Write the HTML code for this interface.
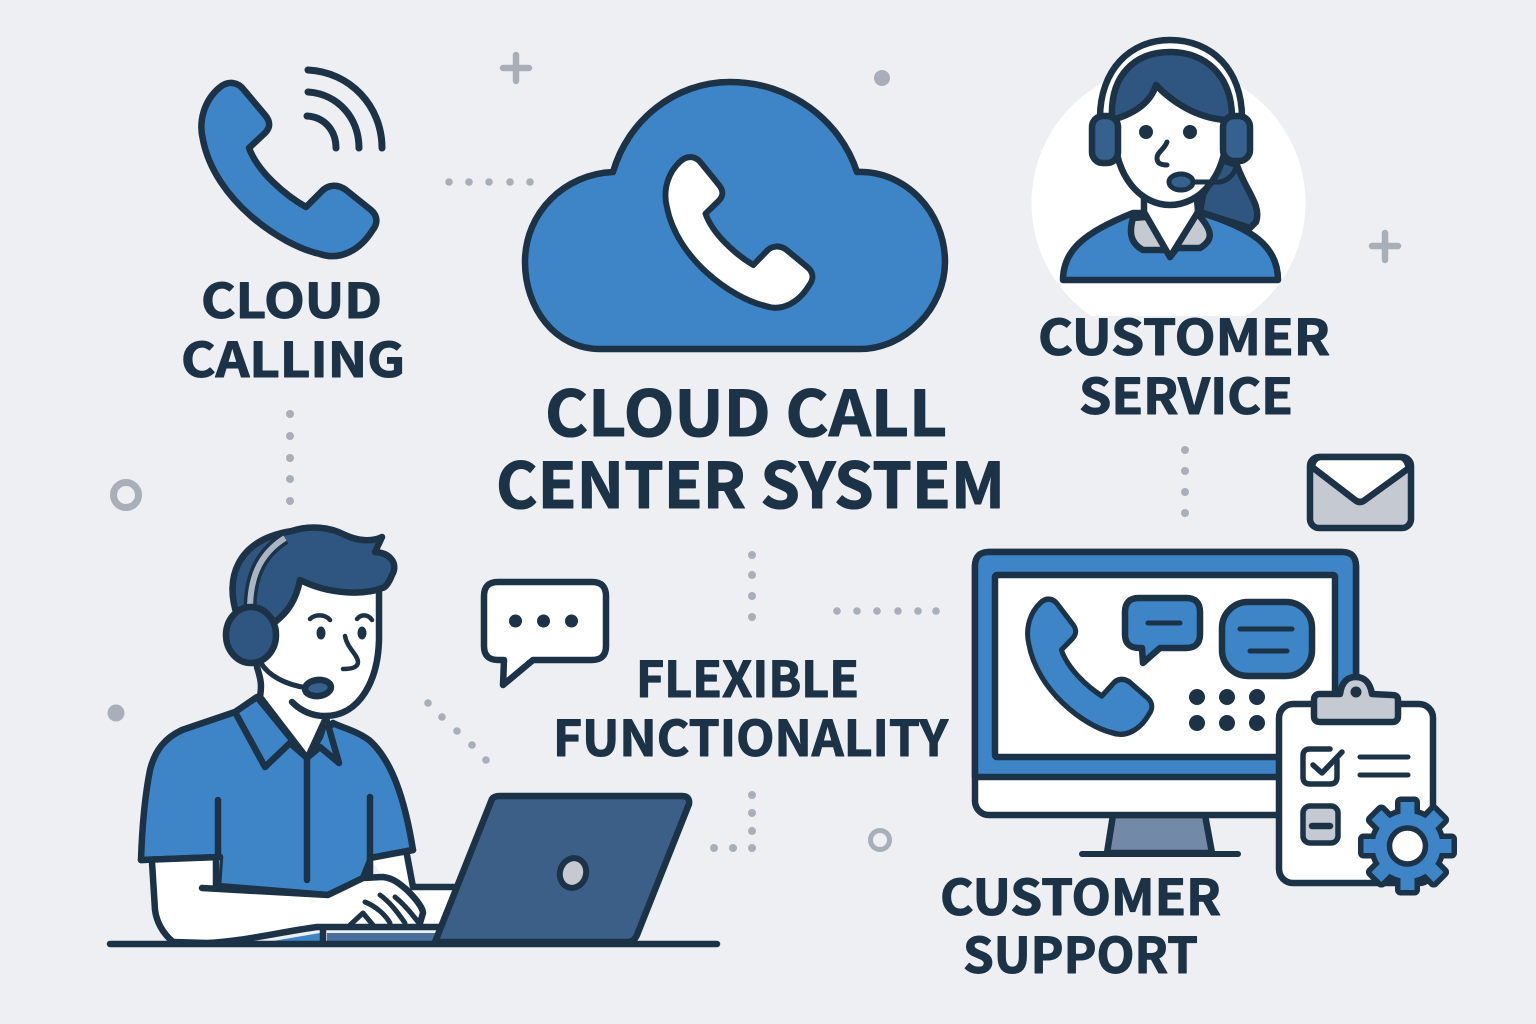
<!DOCTYPE html>
<html>
<head>
<meta charset="utf-8">
<style>
html,body{margin:0;padding:0;background:#edeff2;width:1536px;height:1024px;overflow:hidden}
svg{display:block}
text{font-family:"Noto Sans CJK JP","Liberation Sans",sans-serif;font-weight:700;fill:#1c3246;stroke:#1c3246;stroke-width:1.1;stroke-linejoin:round}
.s{stroke:#1c3246;stroke-width:6.5;stroke-linecap:round;stroke-linejoin:round}
.l{fill:none;stroke:#1c3246;stroke-width:6.5;stroke-linecap:round;stroke-linejoin:round}
.d{fill:#a9afb8}
</style>
</head>
<body>
<svg width="1536" height="1024" viewBox="0 0 1536 1024" xmlns="http://www.w3.org/2000/svg">
<defs>
<path id="ph" d="M219,88 C228,80 238,82 244,90 L265,115 C271,122 270,128 265,133 L249,148 C258,172 285,195 306,207 L321,192 C328,184 338,184 346,190 L371,210 C379,217 377,225 372,231 C360,250 340,261 320,254 C280,245 215,200 203,140 C198,120 205,100 219,88 Z"/>
<clipPath id="cc"><rect x="1000" y="0" width="400" height="316"/></clipPath>
</defs>
<rect width="1536" height="1024" fill="#edeff2"/>

<!-- decorations -->
<g stroke="#a9afb8" stroke-width="6.5" stroke-linecap="round" fill="none">
<path d="M516,55V81M503,68H529"/>
<path d="M1385,233V260M1372,246H1398"/>
</g>
<circle cx="882" cy="78" r="8" class="d"/>
<circle cx="116" cy="713" r="8.5" class="d"/>
<circle cx="126" cy="495" r="12.5" fill="none" stroke="#a9afb8" stroke-width="7"/>
<circle cx="880" cy="840" r="9.5" fill="none" stroke="#a9afb8" stroke-width="5"/>
<g class="d">
<circle cx="449" cy="182" r="3.8"/><circle cx="469" cy="182" r="3.8"/><circle cx="489" cy="182" r="3.8"/><circle cx="510" cy="182" r="3.8"/><circle cx="530" cy="182" r="3.8"/>
<circle cx="290" cy="414" r="4"/><circle cx="290" cy="436" r="4"/><circle cx="290" cy="458" r="4"/><circle cx="290" cy="479" r="4"/><circle cx="290" cy="501" r="4"/>
<circle cx="1185" cy="450" r="4"/><circle cx="1185" cy="471" r="4"/><circle cx="1185" cy="492" r="4"/><circle cx="1185" cy="513" r="4"/>
<circle cx="752" cy="555" r="4"/><circle cx="752" cy="575" r="4"/><circle cx="752" cy="596" r="4"/><circle cx="752" cy="617" r="4"/>
<circle cx="837" cy="611" r="3.8"/><circle cx="857" cy="611" r="3.8"/><circle cx="877" cy="611" r="3.8"/><circle cx="898" cy="611" r="3.8"/><circle cx="918" cy="611" r="3.8"/><circle cx="936" cy="611" r="3.8"/>
<circle cx="428" cy="703" r="3.8"/><circle cx="442" cy="717" r="3.8"/><circle cx="457" cy="731" r="3.8"/><circle cx="472" cy="745" r="3.8"/><circle cx="486" cy="760" r="3.8"/>
<circle cx="752" cy="795" r="4"/><circle cx="752" cy="813" r="4"/><circle cx="752" cy="831" r="4"/><circle cx="752" cy="848" r="4"/><circle cx="733" cy="848" r="4"/><circle cx="714" cy="848" r="4"/>
</g>

<!-- cloud calling -->
<use href="#ph" fill="#3d85c6" stroke="#1c3246" stroke-width="6.5" stroke-linejoin="round"/>
<path class="l" style="stroke-width:7" d="M308,70 C350,72 382,106 382,148"/>
<path class="l" style="stroke-width:7" d="M308,92 C338,94 359,118 359,148"/>
<path class="l" style="stroke-width:7" d="M307,116 C324,117 336,130 336,148"/>

<!-- central cloud -->
<path class="s" fill="#3d85c6" d="M600,349 C555,349 525,308 525,262 C525,212 565,174 613,172 C628,120 675,82 730,82 C790,82 840,120 857,172 C905,170 945,212 945,262 C945,308 905,349 860,349 Z"/>
<g transform="matrix(.84 0 0 .87 496.3 84.9)"><use href="#ph" fill="#fff" stroke="#1c3246" stroke-width="7" stroke-linejoin="round"/></g>

<!-- woman -->
<circle cx="1168.5" cy="203" r="137" fill="#fff" clip-path="url(#cc)"/>
<path class="l" style="fill:#fff" d="M1100,118 C1100,70 1130,40 1170,40 C1212,40 1242,70 1242,118"/>
<path class="s" fill="#2f5680" d="M1222,160 L1237,165 C1245,190 1262,205 1256,222 L1250,228 L1200,212 L1203,195 Z"/>
<path class="s" fill="#3d85c6" d="M1063,280 C1063,250 1085,232 1133,213 L1202,213 C1250,228 1278,245 1278,280 Z"/>
<path class="s" fill="#c5cad2" d="M1133,218 C1129,232 1130,243 1143,250 L1167,250 L1170,257 L1177,248 L1200,248 C1213,240 1214,232 1197,213 Z"/>
<path class="s" fill="#fff" d="M1144,198 L1144,212 L1170,257 L1198,212 L1197,198 Z"/>
<path fill="#fff" d="M1115,118 C1130,115 1150,105 1156,85 C1170,100 1195,118 1226,118 L1226,135 C1226,175 1200,205 1170,205 C1140,205 1115,175 1115,135 Z"/>
<path class="l" d="M1226,118 L1226,135 C1226,175 1200,205 1170,205 C1140,205 1115,175 1115,135 L1115,118"/>
<path class="s" fill="#2f5680" d="M1112,118 C1110,75 1135,52 1170,52 C1205,52 1232,75 1232,118 L1226,120 C1195,118 1170,100 1156,85 C1150,105 1130,115 1112,120 Z"/>
<rect class="s" x="1092" y="116" width="26" height="47" rx="11" fill="#36618f"/>
<rect class="s" x="1223" y="116" width="27" height="45" rx="11" fill="#36618f"/>
<circle cx="1146" cy="132" r="7" fill="#1c3246"/><circle cx="1190" cy="132" r="7" fill="#1c3246"/>
<path class="l" style="stroke-width:5" d="M1167,142 C1164,150 1157,152 1157,158 C1157,164 1162,165 1167,165"/>
<path class="l" style="stroke-width:5" d="M1192,182 L1220,182 C1230,180 1236,172 1237,162"/>
<ellipse class="s" cx="1181" cy="182" rx="12" ry="8" fill="#36618f" style="stroke-width:5"/>

<!-- man -->
<path class="s" fill="#3d85c6" d="M235,712 L182,730 C165,738 155,750 150,770 C144,800 142,830 141,860 L220,857 L218,886 L328,895 L363,878 L371,858 L413,850 C405,800 392,760 369,740 C355,730 340,727 333,723 L320,737 L308,757 L260,697 Z"/>
<path fill="#fff" d="M152,862 L220,857 L218,888 L328,896 L363,879 L383,877 L370,858 L407,855 L413,887 L455,887 L436,928 L317,927 C280,932 240,943 207,943 L173,942 C160,930 155,915 155,905 Z"/>
<path fill="#3d85c6" d="M267,942 L320,933 L320,942 Z"/>
<path fill="#4a6f9f" d="M327,933 L438,933 L435,941 L327,941 Z"/>
<path class="l" d="M152,862 L155,910 C157,925 165,935 173,942"/>
<path class="l" d="M141,860 L220,857"/>
<path class="l" d="M216,857 L216,887"/>
<path class="l" d="M370,858 L413,850"/>
<path class="l" d="M407,855 L413,887 L455,887"/>
<path class="l" d="M202,888 L328,895 L363,878 L383,877 C393,878 400,884 407,890 C416,899 423,908 423,913 L420,923"/>
<path class="l" d="M173,942 L207,943 C240,942 280,932 317,927 L439,927"/>
<path class="l" d="M323,928 V942"/>
<path class="l" style="stroke-width:5" d="M365,902 C375,906 385,914 390,923"/>
<path class="l" style="stroke-width:5" d="M380,895 C390,902 398,913 405,923"/>
<path class="l" style="stroke-width:5" d="M395,897 C405,905 412,914 418,922"/>
<path class="l" style="stroke-width:5" d="M350,925 L363,913 L373,925"/>
<path class="l" d="M218,800 V857"/>
<path class="l" d="M370,797 V877"/>
<path class="l" d="M307,757 V880"/>
<path fill="#fff" d="M300,580 C330,595 365,595 379,590 L379,640 C378,680 360,716 325,716 L320,737 L308,757 L260,697 L257,667 L275,622 Z"/>
<path class="s" fill="#3d85c6" d="M235,712 L257,697 L306,757 L290,743 L265,767 Z"/>
<path class="s" fill="#3d85c6" d="M326,718 L339,763 L320,747 L308,757 Z"/>
<path class="l" d="M260,697 L306,757 M326,718 L320,737 L308,757"/>
<path class="l" d="M379,590 L379,640 C378,680 360,716 325,716 C310,716 300,710 292,702"/>
<path class="l" d="M257,667 C261,680 262,685 260,697"/>
<path class="s" fill="#2f5680" d="M237,615 C225,580 235,540 292,531 C310,525 330,527 345,535 C358,541 372,542 382,537 L375,552 C392,553 398,565 392,575 C388,585 384,588 382,588 C365,595 330,595 300,580 C296,600 288,612 275,622 Z"/>
<path d="M250,610 C250,580 258,555 285,538" fill="none" stroke="#1c3246" stroke-width="13"/>
<path d="M250,610 C250,580 258,555 285,538" fill="none" stroke="#aab4c2" stroke-width="6"/>
<ellipse class="s" cx="251" cy="635" rx="25" ry="28" fill="#2f5680"/>
<path class="l" style="stroke-width:4.5" d="M310,619 C315,614 325,614 330,620"/>
<path class="l" style="stroke-width:4.5" d="M357,619 C361,614 368,614 372,620"/>
<ellipse cx="321" cy="633" rx="4.5" ry="6.5" fill="#1c3246"/>
<ellipse cx="362" cy="633" rx="4.5" ry="6.5" fill="#1c3246"/>
<path class="l" style="stroke-width:4.5" d="M345,636 C347,648 358,655 358,662 C358,668 350,669 343,669"/>
<path class="l" style="stroke-width:5" d="M261,663 C268,675 285,685 308,688"/>
<ellipse class="s" cx="318" cy="688" rx="13" ry="8" fill="#36618f" transform="rotate(-6 318 688)"/>

<!-- laptop -->
<path class="s" fill="#3b5f87" d="M492,799 Q494,796 500,796 L682,796 Q690,796 689,804 L637,935 Q634,942 628,942 L435,942 Z"/>
<ellipse cx="573" cy="873" rx="13" ry="15" fill="#c5cad2" stroke="#1c3246" stroke-width="6" transform="rotate(18 573 873)"/>
<path d="M110,944 H717" stroke="#1c3246" stroke-width="6.5" stroke-linecap="round"/>

<!-- speech bubble -->
<path class="s" fill="#fff" d="M498,582 H592 Q606,582 606,596 V646 Q606,660 592,660 H533 L503,685 L504,660 H498 Q484,660 484,646 V596 Q484,582 498,582 Z"/>
<circle cx="515.5" cy="621" r="6.5" fill="#1c3246"/><circle cx="543.5" cy="621" r="6.5" fill="#1c3246"/><circle cx="571.5" cy="621" r="6.5" fill="#1c3246"/>

<!-- envelope -->
<rect class="s" x="1310" y="457" width="101" height="71" rx="9" fill="#c5cad2"/>
<path class="s" fill="#fff" d="M1312,467 L1355,500 Q1360,504 1365,500 L1409,468 Q1406,457 1400,457 L1320,457 Q1313,458 1312,467 Z"/>

<!-- monitor -->
<path class="s" fill="#7389a8" d="M1113,815 L1205,815 L1212,853 L1107,853 Z"/>
<path d="M1082,854 H1238" stroke="#1c3246" stroke-width="6" stroke-linecap="round"/>
<rect class="s" x="975" y="552" width="381" height="263" rx="14" fill="#fff"/>
<path class="s" fill="#3d85c6" d="M989,552 H1342 Q1356,552 1356,566 V777 H975 V566 Q975,552 989,552 Z"/>
<rect class="s" x="995" y="575" width="340" height="182" rx="2" fill="#fff"/>
<g transform="matrix(.71 0 0 .78 884.6 534.5)"><use href="#ph" fill="#3d85c6" stroke="#1c3246" stroke-width="7" stroke-linejoin="round"/></g>
<path class="s" fill="#3d85c6" d="M1139,598 H1186 Q1200,598 1200,612 V634 Q1200,648 1186,648 H1160 L1143,663 L1142,648 H1139 Q1125,648 1125,634 V612 Q1125,598 1139,598 Z"/>
<path class="l" style="stroke-width:5" d="M1148,623 H1180"/>
<rect class="s" x="1222" y="602" width="90" height="74" rx="26" fill="#3d85c6"/>
<path class="l" style="stroke-width:5" d="M1240,629 H1292 M1250,651 H1287"/>
<g fill="#1c3246"><circle cx="1197" cy="697" r="8"/><circle cx="1227" cy="697" r="8"/><circle cx="1257" cy="697" r="8"/><circle cx="1197" cy="723" r="8"/><circle cx="1227" cy="723" r="8"/><circle cx="1257" cy="723" r="8"/></g>

<!-- clipboard -->
<rect class="s" x="1279" y="704" width="154" height="179" rx="14" fill="#fff"/>
<path class="s" fill="#c5cad2" d="M1320,694 L1340,694 C1342,680 1349,677 1356,677 C1364,677 1370,682 1372,694 L1392,695 Q1398,695 1398,700 L1398,716 Q1398,722 1392,722 L1320,722 Q1314,722 1314,716 L1314,700 Q1314,694 1320,694 Z"/>
<circle cx="1356" cy="692" r="5.5" fill="#1c3246"/>
<path class="l" d="M1330,749 H1310 Q1303,749 1303,756 V777 Q1303,784 1310,784 H1330 Q1337,784 1337,777 V760" style="stroke-width:5.5"/>
<path class="l" style="stroke-width:5.5" d="M1313,765 L1322,773 L1342,752"/>
<path class="l" style="stroke-width:5" d="M1360,757 H1408 M1360,775 H1408"/>
<rect x="1303" y="806" width="35" height="37" rx="7" fill="#c5cad2" stroke="#1c3246" stroke-width="5.5"/>
<path class="l" d="M1312,826 H1330"/>
<g transform="translate(1407.5 846)" fill="none" stroke="#1c3246" stroke-width="11">
<g stroke-linejoin="round"><rect x="-7" y="-44" width="14" height="88"/><rect x="-7" y="-44" width="14" height="88" transform="rotate(45)"/><rect x="-7" y="-44" width="14" height="88" transform="rotate(90)"/><rect x="-7" y="-44" width="14" height="88" transform="rotate(135)"/><circle r="33"/></g>
<g fill="#3d85c6" stroke="none"><rect x="-7" y="-44" width="14" height="88"/><rect x="-7" y="-44" width="14" height="88" transform="rotate(45)"/><rect x="-7" y="-44" width="14" height="88" transform="rotate(90)"/><rect x="-7" y="-44" width="14" height="88" transform="rotate(135)"/><circle r="33"/></g>
<circle r="18" fill="#fff" stroke-width="5.5"/>
</g>

<!-- labels -->
<g>
<text x="201" y="318" font-size="48" textLength="181" lengthAdjust="spacingAndGlyphs">CLOUD</text>
<text x="181" y="377" font-size="48" textLength="224" lengthAdjust="spacingAndGlyphs">CALLING</text>
<text x="545" y="436" font-size="63" textLength="402" lengthAdjust="spacingAndGlyphs">CLOUD CALL</text>
<text x="496" y="508" font-size="63" textLength="509" lengthAdjust="spacingAndGlyphs">CENTER SYSTEM</text>
<text x="1038" y="355" font-size="49" textLength="292" lengthAdjust="spacingAndGlyphs">CUSTOMER</text>
<text x="1079" y="414" font-size="49" textLength="214" lengthAdjust="spacingAndGlyphs">SERVICE</text>
<text x="636" y="697" font-size="49" textLength="223" lengthAdjust="spacingAndGlyphs">FLEXIBLE</text>
<text x="553" y="756" font-size="49" textLength="395" lengthAdjust="spacingAndGlyphs">FUNCTIONALITY</text>
<text x="940" y="915" font-size="49" textLength="281" lengthAdjust="spacingAndGlyphs">CUSTOMER</text>
<text x="963" y="973" font-size="49" textLength="235" lengthAdjust="spacingAndGlyphs">SUPPORT</text>
</g>
</svg>
</body>
</html>
